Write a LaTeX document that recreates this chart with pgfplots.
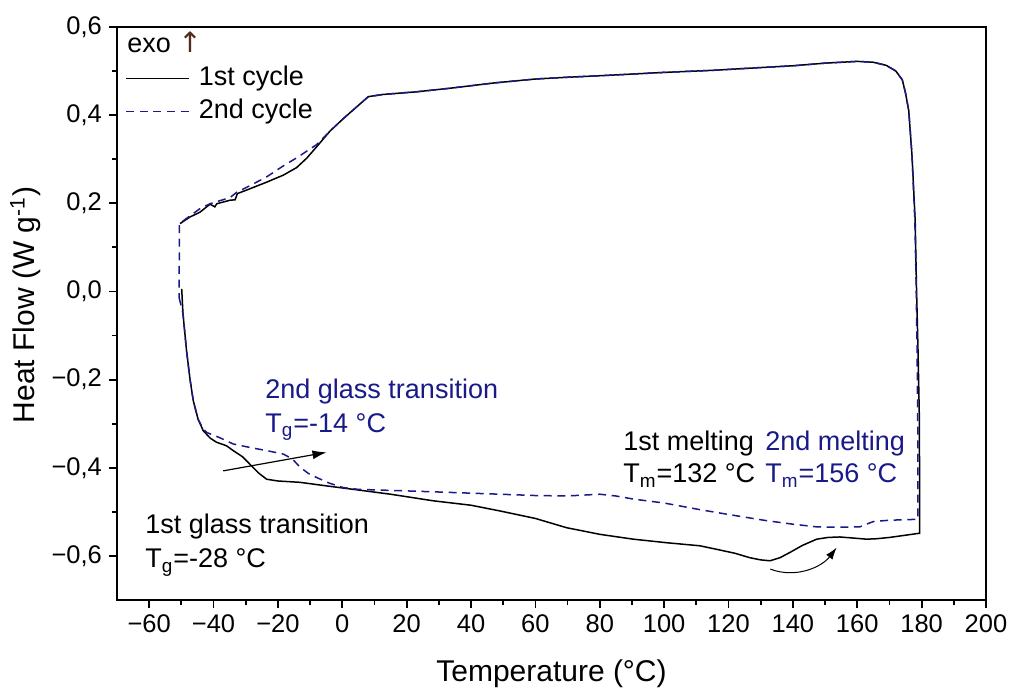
\documentclass[border=0pt]{standalone}
\usepackage{pgfplots}
\pgfplotsset{compat=1.18}
\usepackage{fontspec}
\setmainfont{Liberation Sans}
\newfontfamily\arrowfont{DejaVu Sans}
\usetikzlibrary{arrows.meta}
\definecolor{navyline}{RGB}{25,25,135}
\definecolor{exobrown}{RGB}{80,45,25}

\begin{document}
\begin{tikzpicture}
\begin{axis}[
  name=ax,
  scale only axis,
  width=434.5pt, height=286.5pt,
  xmin=-70, xmax=200, ymin=-0.7, ymax=0.6,
  xtick={-60,-40,...,200},
  xticklabels={−60,−40,−20,0,20,40,60,80,100,120,140,160,180,200},
  ytick={-0.6,-0.4,-0.2,0,0.2,0.4,0.6},
  yticklabels={{−0,6},{−0,4},{−0,2},{0,0},{0,2},{0,4},{0,6}},
  minor x tick num=1, minor y tick num=1,
  tick pos=left, tick align=outside,
  major tick length=4pt, minor tick length=2.5pt,
  every tick/.style={line width=0.9pt, black},
  axis line style={line width=1.25pt},
  tick label style={font=\fontsize{12.75}{15}\selectfont},
  label style={font=\fontsize{15}{18}\selectfont},
  xlabel={Temperature (°C)},
  ylabel={Heat Flow (W g\textsuperscript{-1})},
  xlabel style={at={(axis description cs:0.5,-0.1431)}, anchor=base},
  ylabel style={at={(axis description cs:-0.0944,0.515)}, anchor=base},
  legend image code/.code={\draw[#1] (0pt,0pt) -- (31.5pt,0pt);},
  legend style={at={(axis cs:-67.5,0.5136)}, anchor=north west, draw=none, fill=none,
    inner sep=0pt, row sep=3.5pt,
    font=\fontsize{13.5}{16}\selectfont,
    nodes={text height=10pt, text depth=3pt, inner sep=0pt},
    /tikz/every odd column/.append style={column sep=4.5pt}},
  legend cell align=left,
]

% 1st cycle (heating branch at bottom, then cooling branch on top)
\addplot[black, line width=0.75pt] coordinates {
(-49.9,0.006) (-49.5,-0.05) (-48.4,-0.134) (-47.3,-0.2) (-46.3,-0.248)
(-44.8,-0.29) (-43.2,-0.316) (-41,-0.333) (-39.1,-0.342) (-36,-0.35)
(-33.9,-0.361) (-31,-0.375) (-28.7,-0.392) (-26,-0.412) (-23.5,-0.426)
(-20,-0.43) (-13.2,-0.433) (-5,-0.441) (2.4,-0.448) (15,-0.46)
(28.3,-0.475) (40,-0.485) (49,-0.498) (60,-0.515) (69.7,-0.536)
(80,-0.551) (90.4,-0.562) (100.7,-0.57) (111.1,-0.577) (116.3,-0.585)
(122,-0.594) (126.6,-0.604) (130,-0.609) (132.9,-0.611) (136,-0.604)
(139.1,-0.592) (143,-0.576) (147.4,-0.562) (151,-0.558) (154.6,-0.557)
(158,-0.559) (162.9,-0.562) (166,-0.561) (170.1,-0.558) (175,-0.553)
(178.9,-0.549) (179.4,-0.549) (179.4,-0.52) (179.3,-0.29) (178.9,-0.14)
(178.4,0.01) (178,0.16) (177,0.31) (176,0.41) (175,0.45) (174,0.48)
(172,0.5) (169,0.513) (165,0.52) (160,0.522) (150,0.518) (140,0.512)
(127.6,0.507) (116,0.502) (100,0.497) (81.6,0.49) (70,0.486) (60,0.482)
(47.1,0.473) (33.4,0.461) (23.1,0.453) (12.7,0.447) (8.1,0.442)
(4.5,0.419) (0.3,0.392) (-3.8,0.364) (-8,0.328) (-11.1,0.302)
(-14.2,0.281) (-18.3,0.264) (-23.5,0.248) (-28.7,0.233) (-32.6,0.222)
(-33.3,0.208) (-34.9,0.207) (-39,0.199) (-39.6,0.192) (-41.1,0.198)
(-44.2,0.18) (-47.3,0.169) (-50.4,0.154)
};
\addlegendentry{1st cycle}

% 2nd cycle
\addplot[navyline, line width=0.75pt, dash pattern=on 4pt off 2.8pt] coordinates {
(-50.7,-0.014) (-49.5,-0.05) (-48.4,-0.134) (-47.3,-0.2) (-46.3,-0.248)
(-44.8,-0.29) (-43.2,-0.312) (-42.1,-0.32) (-38,-0.332) (-33.9,-0.346)
(-28,-0.355) (-23.5,-0.361) (-18.3,-0.369) (-15.5,-0.38) (-13.1,-0.399)
(-10.5,-0.413) (-8,-0.422) (-4,-0.435) (0.3,-0.445) (5,-0.449)
(17.9,-0.452) (30,-0.455) (49,-0.46) (60,-0.463) (69.7,-0.464)
(75,-0.462) (80,-0.46) (85,-0.464) (90.4,-0.471) (100,-0.48)
(111.1,-0.495) (120,-0.506) (131.8,-0.52) (140,-0.528) (147.3,-0.534)
(154,-0.535) (160.8,-0.534) (165,-0.522) (170,-0.519) (178.4,-0.517)
(178.8,-0.517) (178.8,-0.3) (178.6,-0.14) (178.3,0.01) (177.9,0.16)
(177,0.31) (176,0.41) (175,0.45) (174,0.48) (172,0.5) (169,0.513)
(165,0.52) (160,0.522) (150,0.518) (140,0.512) (127.6,0.507) (116,0.502)
(100,0.497) (81.6,0.49) (70,0.486) (60,0.482) (47.1,0.473) (33.4,0.461)
(23.1,0.453) (12.7,0.447) (8.1,0.442) (4.5,0.419) (0.3,0.392)
(-3.8,0.364) (-8,0.333) (-14.2,0.303) (-18.3,0.285) (-23.5,0.26)
(-28.7,0.24) (-32.8,0.225) (-34.9,0.213) (-41.1,0.199) (-44.2,0.188)
(-50.6,0.154) (-50.7,0.0) (-50.7,-0.014)
};
\addlegendentry{2nd cycle}

\node[anchor=base west, font=\fontsize{13.5}{16}\selectfont, inner sep=0pt]
  at (axis cs:-66.9,0.543) {exo \textcolor{exobrown}{\arrowfont\fontsize{14}{16}\selectfont ↑}};

\begin{scope}[font=\fontsize{13.5}{16}\selectfont, inner sep=0pt]
\node[anchor=base west, text=navyline] at (axis cs:-24.0,-0.243) {2nd glass transition};
\node[anchor=base west, text=navyline] at (axis cs:-24.0,-0.320) {T\textsubscript{g}=-14 °C};
\node[anchor=base west] at (axis cs:-61.3,-0.550) {1st glass transition};
\node[anchor=base west] at (axis cs:-61.3,-0.627) {T\textsubscript{g}=-28 °C};
\node[anchor=base west] at (axis cs:87.2,-0.361) {1st melting};
\node[anchor=base west] at (axis cs:87.2,-0.434) {T\textsubscript{m}=132 °C};
\node[anchor=base west, text=navyline] at (axis cs:131.3,-0.361) {2nd melting};
\node[anchor=base west, text=navyline] at (axis cs:131.3,-0.434) {T\textsubscript{m}=156 °C};
\end{scope}

\draw[-{Latex[length=7pt,width=4.5pt]}, line width=0.6pt]
  (axis cs:-37,-0.407) -- (axis cs:-4.9,-0.365);
\draw[-{Latex[length=6pt,width=4pt]}, line width=0.5pt]
  (axis cs:133,-0.630) .. controls (axis cs:141,-0.652) and (axis cs:149,-0.625) .. (axis cs:153.6,-0.581);
\end{axis}
\pgfresetboundingbox
\path ([xshift=-58.5pt,yshift=-45.5pt]ax.south west) rectangle ([xshift=13pt,yshift=13.5pt]ax.north east);
\end{tikzpicture}
\end{document}
